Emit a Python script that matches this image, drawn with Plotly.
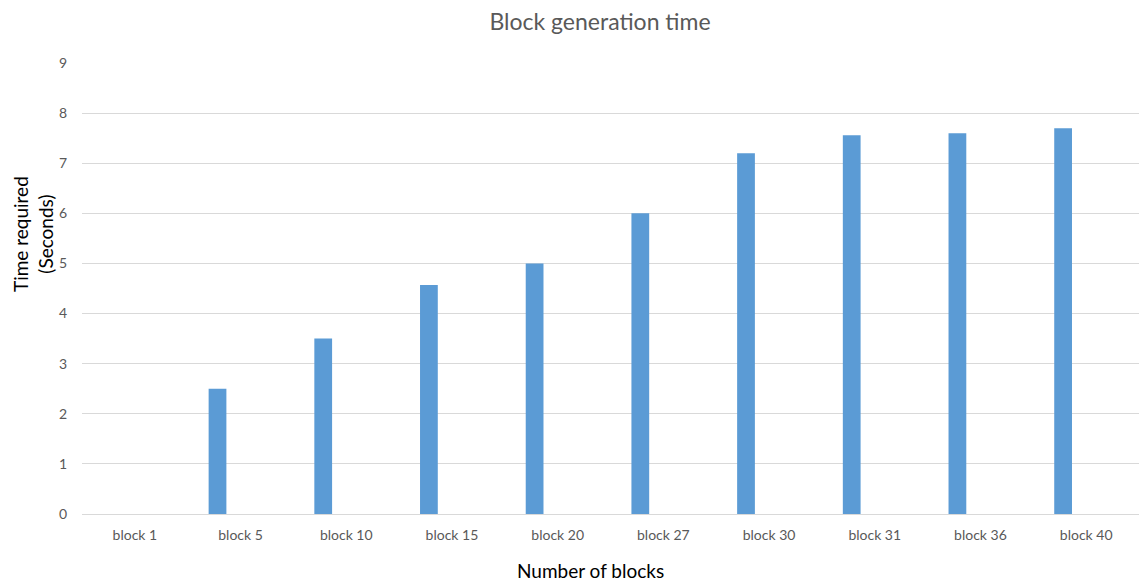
import plotly.graph_objects as go

# Block generation timings
blocks = ["block 1", "block 5", "block 10", "block 15", "block 20",
          "block 27", "block 30", "block 31", "block 36", "block 40"]
seconds = [0, 2.5, 3.5, 4.57, 5.0, 6.0, 7.2, 7.56, 7.6, 7.7]
y_ticks = [0, 1, 2, 3, 4, 5, 6, 7, 8, 9]

FONT = "Lato, 'Open Sans', sans-serif"
GREY = "#595959"
W, H = 1139, 581

fig = go.Figure()
fig.add_trace(go.Bar(
    x=blocks,
    y=seconds,
    marker=dict(color="#5b9bd5", line=dict(width=0)),
    width=0.168,
    offset=-0.302,
    hoverinfo="x+y",
))

fig.update_layout(
    width=W,
    height=H,
    margin=dict(l=82, r=0, t=63, b=67),
    paper_bgcolor="white",
    plot_bgcolor="white",
    showlegend=False,
    font=dict(family=FONT, color=GREY),
    title=dict(
        text="Block generation time",
        x=600 / W, xanchor="center", xref="container",
        y=1 - 22 / H, yanchor="middle", yref="container",
        font=dict(size=23, color=GREY, family=FONT),
    ),
    xaxis=dict(
        type="category",
        categoryorder="array",
        categoryarray=blocks,
        showgrid=False,
        showline=True,
        linecolor="#d9d9d9",
        linewidth=1,
        ticks="",
        tickfont=dict(size=14, color=GREY, family=FONT),
        ticklabelstandoff=8,
    ),
    yaxis=dict(
        range=[0, 9],
        tickvals=y_ticks,
        ticktext=[str(v) for v in y_ticks],
        showgrid=True,
        gridcolor="#d9d9d9",
        gridwidth=1,
        zeroline=False,
        showline=False,
        ticks="",
        tickfont=dict(size=14, color=GREY, family=FONT),
        ticklabelstandoff=14,
    ),
    annotations=[
        dict(text="Number of blocks", xref="paper", yref="paper",
             x=(590 - 82) / (W - 82), y=-(570 - 514) / (514 - 63),
             xanchor="center", yanchor="middle", showarrow=False,
             font=dict(size=19, color="black", family=FONT)),
        dict(text="Time required<br>(Seconds)", xref="paper", yref="paper",
             x=-(82 - 33) / (W - 82), y=(514 - 234) / (514 - 63),
             xanchor="center", yanchor="middle", showarrow=False,
             textangle=-90,
             font=dict(size=19, color="black", family=FONT)),
    ],
)

fig.write_html("out.html")
